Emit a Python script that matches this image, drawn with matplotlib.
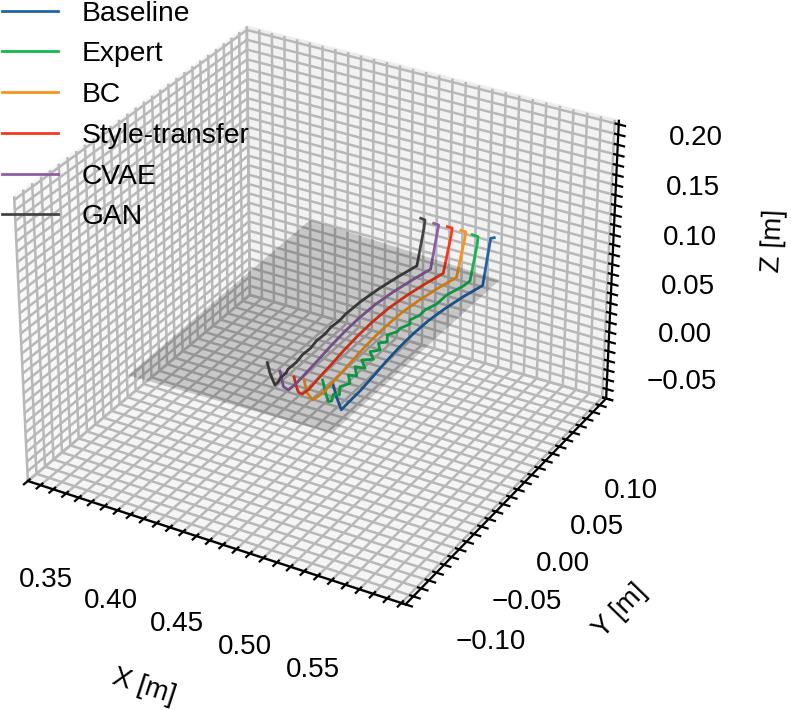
import numpy as np
import matplotlib
matplotlib.use("Agg")
import matplotlib.pyplot as plt
from mpl_toolkits.mplot3d.art3d import Poly3DCollection

plt.rcParams['font.family'] = ['Liberation Sans', 'DejaVu Sans']
plt.rcParams['font.size'] = 10
plt.rcParams['grid.linewidth'] = 0.9
plt.rcParams['grid.color'] = '#b8b8b8'

x_ticks = np.arange(0.31, 0.595, 0.01)
y_ticks = np.arange(-0.14, 0.145, 0.01)
z_ticks = np.arange(-0.07, 0.215, 0.01)

names = ["Baseline", "Expert", "BC", "Style-transfer", "CVAE", "GAN"]
colors = ["#1f63a8", "#10b84f", "#f7941d", "#f5391c", "#8e5ea2", "#444444"]

# Table plane corners
plane_x = [.363, .360, .514, .513]
plane_y = [-.098, .140, .131, -.093]
plane_z = [.03, .03, .03, .03]

base_x = [.5176, .5147, .5075, .5035, .5004, .4983, .4978, .4983, .4996, .5014, .5030, .5035, .5040, .5012, .4996]
base_y = [.1142, .1146, .1187, .10, .08, .06, .04, .02, 0, -.02, -.04, -.055, -.066, -.0671, -.069]
base_z = [.086, .084, .03, .03, .03, .03, .03, .03, .03, .03, .03, .03, .03, .042, .056]

expert_x = [.5029, .5069, .5059, .4972, .4965, .4925, .4925, .4895, .4898, .4872, .4898, .4868, .4874, .4837, .4879, .4839,
            .4890, .4844, .4910, .4849, .4919, .4853, .4920, .4867, .4928, .4892, .4940, .4902, .4934, .4919, .4902, .4877]
expert_y = [.1106, .1112, .1125, .1198, .1116, .0954, .0815, .0707, .0632, .0542, .0496, .0414, .0368, .0298, .0223, .0175,
            .0106, .0055, -.0018, -.0063, -.0143, -.0158, -.0253, -.0269, -.0353, -.0421, -.0511, -.0523, -.0599, -.0616, -.0621, -.0617]
expert_z = [.086, .085, .077, .03, .03, .03, .03, .03, .03, .03, .03, .03, .03, .03, .03, .03,
            .03, .03, .03, .03, .03, .03, .03, .03, .03, .03, .03, .03, .03, .03, .038, .05]

bc_x = [.4935, .4966, .4955, .4870, .4830, .4799, .4778, .4773, .4778, .4791, .4809, .4825, .4836, .4821, .4803, .4799]
bc_y = [.112, .113, .114, .1195, .10, .08, .06, .04, .02, 0, -.02, -.04, -.0531, -.0648, -.0691, -.0716]
bc_z = [.086, .085, .077, .03, .03, .03, .03, .03, .03, .03, .03, .03, .03, .03, .04, .054]

style_x = [.4832, .4863, .4852, .4765, .4725, .4694, .4673, .4668, .4673, .4686, .4704, .4720, .4735, .4727, .4712, .4703, .4700]
style_y = [.112, .113, .114, .12, .10, .08, .06, .04, .02, 0, -.02, -.04, -.055, -.0621, -.0643, -.066, -.0675]
style_z = [.086, .085, .077, .03, .03, .03, .03, .03, .03, .03, .03, .03, .03, .03, .033, .042, .05]

cvae_x = [.4730, .4764, .4750, .4663, .4623, .4592, .4571, .4566, .4571, .4584, .4602, .4618, .4628, .4624, .4601, .4597]
cvae_y = [.1115, .1123, .1133, .1207, .10, .08, .06, .04, .02, 0, -.02, -.04, -.054, -.0621, -.0643, -.0678]
cvae_z = [.086, .085, .077, .03, .03, .03, .03, .03, .03, .03, .03, .03, .03, .03, .034, .052]

gan_x = [.4621, .4650, .4649, .4560, .4520, .4489, .4468, .4463, .4470, .4464, .4474, .4470, .4484, .4480, .4494, .4491, .4505, .4503, .4516, .4518, .4499, .4493]
gan_y = [.1133, .1139, .1129, .1201, .10, .08, .06, .04, .03, .02, .01, 0, -.01, -.02, -.03, -.04, -.045, -.052, -.056, -.0611, -.0639, -.0661]
gan_z = [.086, .085, .077, .03, .03, .03, .03, .03, .03, .03, .03, .03, .03, .03, .03, .03, .03, .03, .03, .03, .043, .055]

series = [(base_x, base_y, base_z), (expert_x, expert_y, expert_z), (bc_x, bc_y, bc_z),
          (style_x, style_y, style_z), (cvae_x, cvae_y, cvae_z), (gan_x, gan_y, gan_z)]


# Only every fifth tick gets a label
def tick_labels(ticks):
    out = []
    for t in ticks:
        k = round(t * 100)
        out.append(("%.2f" % t).replace("-", "\u2212") if k % 5 == 0 else "")
    return out


fig = plt.figure(figsize=(3.955, 3.55), dpi=200)
ax = fig.add_axes([-0.029, 0.088, 0.85, 0.949], projection='3d')
ax.set_box_aspect((4, 4, 3), zoom=1.0)

ax.add_collection3d(Poly3DCollection([list(zip(plane_x, plane_y, plane_z))], facecolor='k', alpha=0.18, edgecolor='none'))
for (xs, ys, zs), name, color in zip(series, names, colors):
    ax.plot(xs, ys, zs, color=color, lw=1.0, label=name)

ax.set_xlim(0.31, 0.593)
ax.set_ylim(-0.14, 0.14)
ax.set_zlim(-0.07, 0.2135)
ax.set_xticks(x_ticks)
ax.set_yticks(y_ticks)
ax.set_zticks(z_ticks)
ax.set_xticklabels(tick_labels(x_ticks))
ax.set_yticklabels(tick_labels(y_ticks))
ax.set_zticklabels(tick_labels(z_ticks))
ax.tick_params(axis='x', pad=10)
ax.tick_params(axis='y', pad=9.5)
ax.tick_params(axis='z', pad=9)
ax.set_xlabel("X [m]", labelpad=16)
ax.set_ylabel("Y [m]", labelpad=15.5)
ax.set_zlabel("Z [m]", labelpad=15)

fig.legend(loc="upper left", frameon=False, bbox_to_anchor=(-0.03, 1.035), labelspacing=0.52, handletextpad=0.83, fontsize=10.2)
fig.savefig("out.png")
